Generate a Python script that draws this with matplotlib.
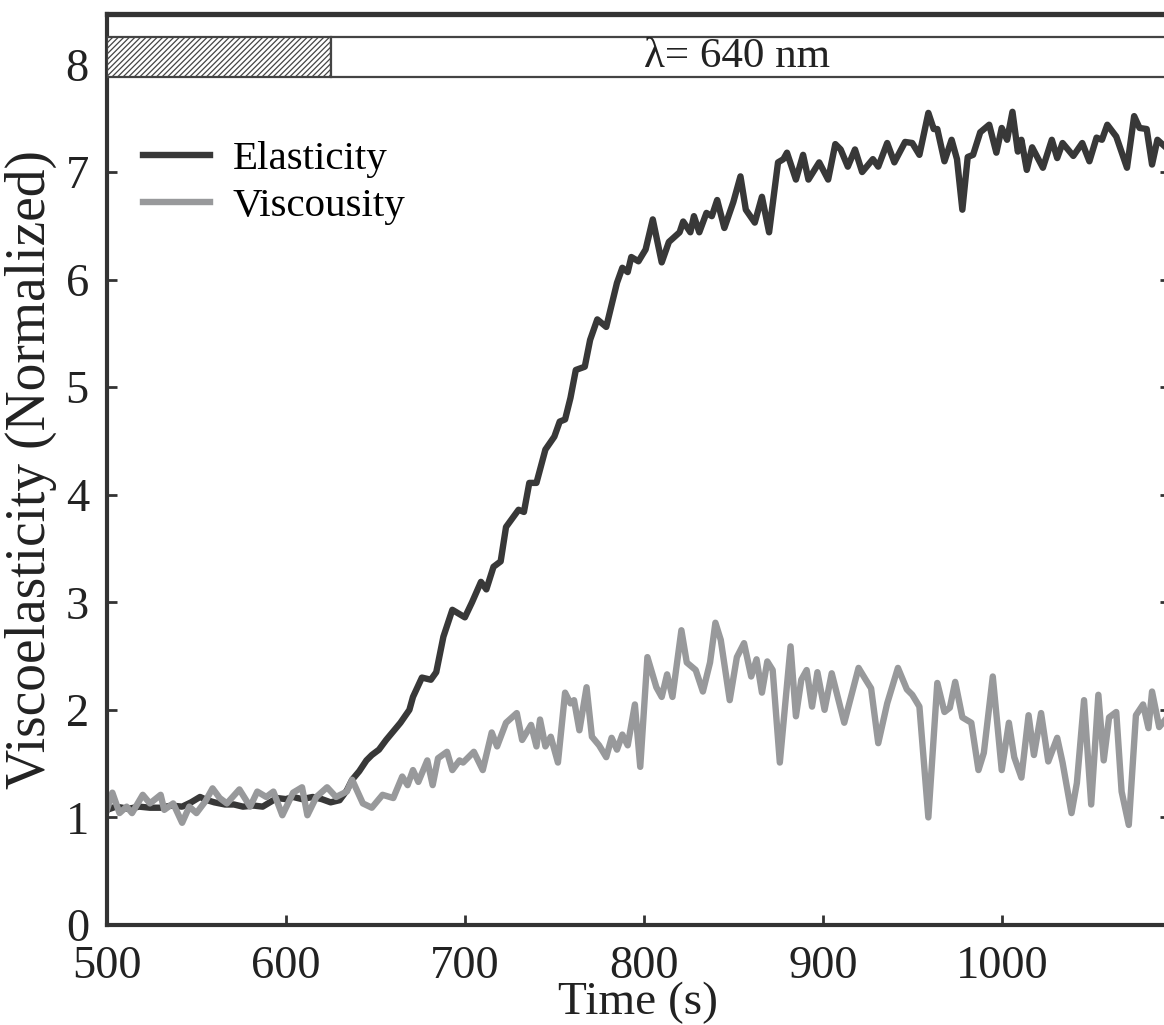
import matplotlib
matplotlib.use('Agg')
import matplotlib.pyplot as plt
from matplotlib.patches import Rectangle

plt.rcParams['font.family'] = ['Liberation Serif', 'DejaVu Serif']
plt.rcParams['hatch.linewidth'] = 0.9
plt.rcParams['hatch.color'] = '#555555'

# data
time_e = [500, 505, 512, 518, 524, 530, 536, 542, 547, 552, 556, 560, 566, 571, 576,
          582, 587, 591, 595, 600, 604, 609, 615, 620, 625, 630, 634, 637, 641, 645,
          648, 652, 656, 660, 664, 669, 671, 676, 681, 684, 688, 693, 700, 704, 709,
          712, 716, 720, 723, 730, 733, 736, 740, 745, 750, 753, 756, 759, 762, 767,
          770, 774, 779, 785, 788, 791, 793, 797, 801, 805, 810, 814, 820, 822, 826,
          828, 831, 835, 838, 841, 845, 850, 854, 857, 862, 866, 870, 875, 878, 880,
          885, 889, 892, 898, 903, 907, 910, 914, 918, 922, 928, 931, 936, 940, 946,
          950, 954, 959, 962, 964, 968, 972, 975, 978, 981, 984, 988, 993, 997, 1000,
          1003, 1006, 1009, 1011, 1014, 1017, 1023, 1028, 1031, 1034, 1040, 1045, 1049, 1053, 1056,
          1059, 1064, 1070, 1074, 1077, 1081, 1084, 1087, 1091]
elasticity = [1.07, 1.10, 1.08, 1.10, 1.09, 1.09, 1.11, 1.10, 1.14, 1.19, 1.16, 1.14, 1.12, 1.12, 1.10,
              1.11, 1.10, 1.14, 1.18, 1.17, 1.19, 1.17, 1.19, 1.17, 1.14, 1.16, 1.25, 1.35, 1.43, 1.53,
              1.58, 1.63, 1.72, 1.80, 1.88, 2.00, 2.12, 2.30, 2.28, 2.35, 2.68, 2.93, 2.86, 3.00, 3.19,
              3.12, 3.33, 3.38, 3.70, 3.86, 3.84, 4.11, 4.11, 4.42, 4.54, 4.68, 4.70, 4.90, 5.16, 5.19,
              5.44, 5.63, 5.56, 5.97, 6.11, 6.07, 6.21, 6.17, 6.28, 6.56, 6.16, 6.35, 6.44, 6.54, 6.44,
              6.59, 6.44, 6.62, 6.59, 6.74, 6.48, 6.72, 6.96, 6.65, 6.53, 6.77, 6.44, 7.09, 7.12, 7.18,
              6.93, 7.16, 6.93, 7.09, 6.93, 7.26, 7.21, 7.05, 7.21, 7.00, 7.12, 7.05, 7.27, 7.09, 7.28,
              7.27, 7.16, 7.55, 7.40, 7.40, 7.10, 7.30, 7.12, 6.65, 7.14, 7.16, 7.37, 7.44, 7.18, 7.41,
              7.30, 7.56, 7.19, 7.30, 7.02, 7.23, 7.04, 7.30, 7.13, 7.27, 7.15, 7.27, 7.10, 7.32, 7.30,
              7.44, 7.33, 7.04, 7.52, 7.41, 7.40, 7.07, 7.30, 7.24]

time_v = [500, 503, 507, 511, 514, 520, 524, 530, 532, 537, 542, 546, 550, 555, 559,
          563, 567, 574, 580, 584, 589, 593, 598, 604, 609, 612, 617, 623, 628, 634,
          637, 643, 648, 654, 660, 665, 668, 671, 674, 679, 682, 685, 690, 693, 697,
          699, 705, 710, 715, 718, 723, 729, 732, 737, 740, 742, 745, 748, 752, 756,
          759, 761, 764, 768, 771, 775, 779, 782, 785, 788, 791, 795, 798, 802, 807,
          810, 813, 816, 821, 824, 829, 833, 837, 840, 843, 848, 852, 856, 860, 863,
          866, 869, 872, 876, 882, 885, 888, 891, 894, 897, 901, 905, 912, 920, 924,
          927, 931, 936, 942, 947, 950, 954, 959, 964, 968, 971, 974, 978, 980, 983,
          987, 990, 995, 1000, 1004, 1007, 1011, 1015, 1018, 1022, 1026, 1031, 1034, 1039, 1042,
          1046, 1050, 1054, 1057, 1060, 1064, 1067, 1071, 1075, 1079, 1082, 1084, 1088, 1091]
viscosity = [1.07, 1.23, 1.04, 1.10, 1.04, 1.21, 1.13, 1.21, 1.07, 1.13, 0.95, 1.10, 1.04, 1.15, 1.27,
             1.18, 1.13, 1.26, 1.10, 1.24, 1.19, 1.24, 1.02, 1.23, 1.28, 1.02, 1.19, 1.28, 1.19, 1.24,
             1.35, 1.13, 1.09, 1.21, 1.18, 1.38, 1.30, 1.44, 1.33, 1.53, 1.30, 1.55, 1.61, 1.44, 1.53,
             1.51, 1.61, 1.44, 1.79, 1.66, 1.88, 1.97, 1.72, 1.86, 1.66, 1.91, 1.66, 1.75, 1.51, 2.16,
             2.06, 2.09, 1.81, 2.21, 1.75, 1.67, 1.56, 1.74, 1.63, 1.77, 1.67, 2.05, 1.47, 2.49, 2.21,
             2.12, 2.33, 2.12, 2.74, 2.44, 2.37, 2.17, 2.44, 2.81, 2.65, 2.09, 2.49, 2.62, 2.31, 2.47,
             2.16, 2.45, 2.37, 1.51, 2.59, 1.94, 2.28, 2.37, 2.03, 2.35, 2.00, 2.34, 1.88, 2.39, 2.28,
             2.20, 1.69, 2.06, 2.39, 2.19, 2.14, 2.03, 1.00, 2.25, 1.98, 2.02, 2.26, 1.93, 1.91, 1.88,
             1.44, 1.60, 2.31, 1.44, 1.88, 1.56, 1.37, 1.95, 1.58, 1.97, 1.52, 1.74, 1.51, 1.04, 1.32,
             2.09, 1.12, 2.14, 1.53, 1.93, 1.98, 1.24, 0.93, 1.95, 2.05, 1.83, 2.17, 1.84, 1.90]

xticks = [500, 600, 700, 800, 900, 1000]
yticks = [0, 1, 2, 3, 4, 5, 6, 7, 8]
dark_start, dark_end = 500, 625

fig = plt.figure(figsize=(11.64, 10.25), dpi=100)
ax = fig.add_axes([0.0919, 0.0976, 0.9132, 0.8888])

ax.plot(time_e, elasticity, color='#383838', lw=4.6, label='Elasticity', solid_joinstyle='round')
ax.plot(time_v, viscosity, color='#98999b', lw=4.6, label='Viscousity', solid_joinstyle='round')

# illumination bar
ax.add_patch(Rectangle((dark_start, 7.88), dark_end - dark_start, 0.38, facecolor='white',
                       edgecolor='#444444', lw=1.6, hatch='//////', zorder=3))
ax.add_patch(Rectangle((dark_end, 7.88), 1200 - dark_end, 0.38, facecolor='white',
                       edgecolor='#444444', lw=1.6, zorder=3))
ax.text(852, 8.07, 'λ= 640 nm', fontsize=31, ha='center', va='center', color='#222222', zorder=4)

ax.set_xlim(500, 1094)
ax.set_ylim(0, 8.47)
ax.set_xticks(xticks)
ax.set_yticks(yticks)
ax.tick_params(direction='in', length=7, width=2, color='#333333', labelsize=33.5,
               labelcolor='#222222', right=True)
ax.tick_params(axis='x', pad=15)
ax.tick_params(axis='y', pad=13)

for side in ['left', 'bottom']:
    ax.spines[side].set_linewidth(3)
    ax.spines[side].set_color('#333333')
ax.spines['top'].set_linewidth(3.8)
ax.spines['top'].set_color('#333333')
ax.spines['right'].set_linewidth(3)

ax.set_xlabel('Time (s)', fontsize=34, color='#222222', labelpad=-5)
ax.set_ylabel('Viscoelasticity (Normalized)', fontsize=40, color='#222222', labelpad=6)

ax.legend(loc='upper left', bbox_to_anchor=(0.034, 0.861), frameon=False, fontsize=29.5,
          handlelength=1.63, handletextpad=0.56, labelspacing=0.22, borderpad=0,
          borderaxespad=0)

fig.savefig('out.png', dpi=100)
